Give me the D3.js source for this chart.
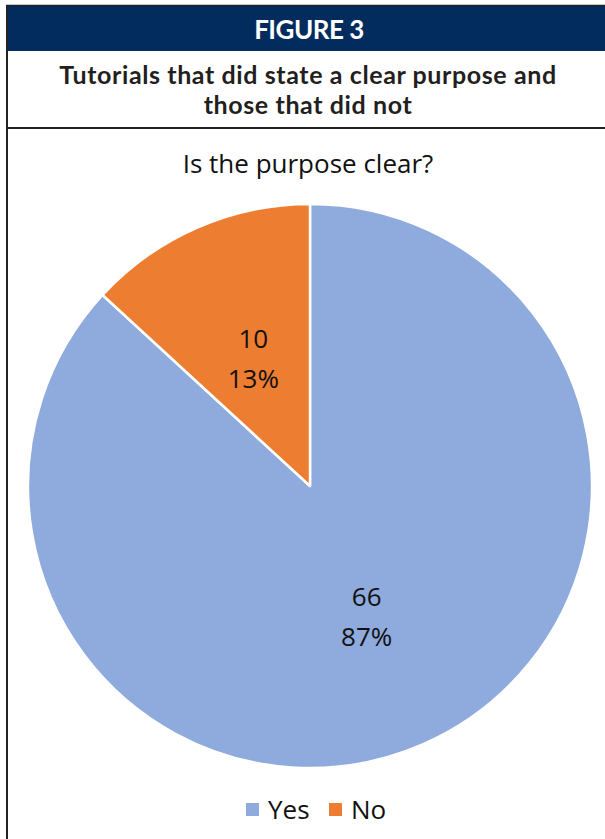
<!DOCTYPE html>
<html>
<head>
<meta charset="utf-8">
<script src="https://cdn.jsdelivr.net/npm/d3@7"></script>
<style>
  body { margin: 0; background: #fff; }
  svg { display: block; }
</style>
</head>
<body>
<div id="chart"></div>
<script>
// chart values
var categories = ["Yes", "No"];
var counts = [66, 10];
var percents = ["87%", "13%"];
var colors = ["#8faadc", "#ed7d31"];

var figureLabel = "FIGURE 3";
var titleLines = ["Tutorials that did state a clear purpose and", "those that did not"];
var chartTitle = "Is the purpose clear?";

var width = 605, height = 839;

var svg = d3.select("#chart")
  .append("svg")
  .attr("width", width)
  .attr("height", height);

// header band
svg.append("rect")
  .attr("x", 7).attr("y", 6)
  .attr("width", width - 7).attr("height", 45)
  .style("fill", "#022c5e");

// frame lines
svg.append("line")
  .attr("x1", 6).attr("x2", width).attr("y1", 5.5).attr("y2", 5.5)
  .style("stroke", "#222").style("stroke-width", 1.5);
svg.append("line")
  .attr("x1", 7).attr("x2", 7).attr("y1", 5).attr("y2", height)
  .style("stroke", "#222").style("stroke-width", 2);
svg.append("line")
  .attr("x1", 6).attr("x2", width).attr("y1", 128).attr("y2", 128)
  .style("stroke", "#222").style("stroke-width", 2);

svg.append("text")
  .attr("x", 309).attr("y", 39)
  .style("text-anchor", "middle")
  .style("font-family", "Lato, sans-serif")
  .style("font-weight", "bold")
  .style("font-size", "26px")
  .style("letter-spacing", "-0.5px")
  .style("fill", "#fff")
  .text(figureLabel);

svg.selectAll(".title-line")
  .data(titleLines)
  .enter()
  .append("text")
  .attr("class", "title-line")
  .attr("x", 308)
  .attr("y", function(d, i) { return 84 + i * 30; })
  .style("text-anchor", "middle")
  .style("font-family", "Lato, sans-serif")
  .style("font-weight", "bold")
  .style("font-size", "25px")
  .style("letter-spacing", "0.6px")
  .style("fill", "#231f20")
  .text(function(d) { return d; });

svg.append("text")
  .attr("x", 308).attr("y", 173)
  .style("text-anchor", "middle")
  .style("font-family", "'Open Sans', sans-serif")
  .style("font-size", "26px")
  .style("fill", "#111")
  .text(chartTitle);

// pie
var cx = 310, cy = 486, radius = 282;

var pie = d3.pie().sort(null).value(function(d) { return d; });
var arcs = pie(counts);

var arc = d3.arc().innerRadius(0).outerRadius(radius);
var labelArc = d3.arc().innerRadius(radius * 0.5).outerRadius(radius * 0.5);

var g = svg.append("g")
  .attr("transform", "translate(" + cx + "," + cy + ")");

g.selectAll(".slice")
  .data(arcs)
  .enter()
  .append("path")
  .attr("class", "slice")
  .attr("d", arc)
  .style("fill", function(d, i) { return colors[i]; })
  .style("stroke", "#fff")
  .style("stroke-width", 2.5)
  .style("stroke-linejoin", "round");

var labels = g.selectAll(".label")
  .data(arcs)
  .enter()
  .append("text")
  .attr("class", "label")
  .attr("transform", function(d) { return "translate(" + labelArc.centroid(d) + ")"; })
  .style("text-anchor", "middle")
  .style("font-family", "'Open Sans', sans-serif")
  .style("font-size", "26px")
  .style("fill", "#111");

labels.append("tspan")
  .attr("x", 0).attr("dy", "-0.35em")
  .text(function(d) { return d.data; });
labels.append("tspan")
  .attr("x", 0).attr("dy", "1.55em")
  .text(function(d, i) { return percents[i]; });

// legend
var legendX = [246, 329];
var legend = svg.selectAll(".legend")
  .data(categories)
  .enter()
  .append("g")
  .attr("class", "legend")
  .attr("transform", function(d, i) { return "translate(" + legendX[i] + ",803)"; });

legend.append("rect")
  .attr("width", 13).attr("height", 13)
  .style("fill", function(d, i) { return colors[i]; });

legend.append("text")
  .attr("x", 22).attr("y", 16)
  .style("font-family", "'Open Sans', sans-serif")
  .style("font-size", "26px")
  .style("fill", "#111")
  .text(function(d) { return d; });
</script>
</body>
</html>
